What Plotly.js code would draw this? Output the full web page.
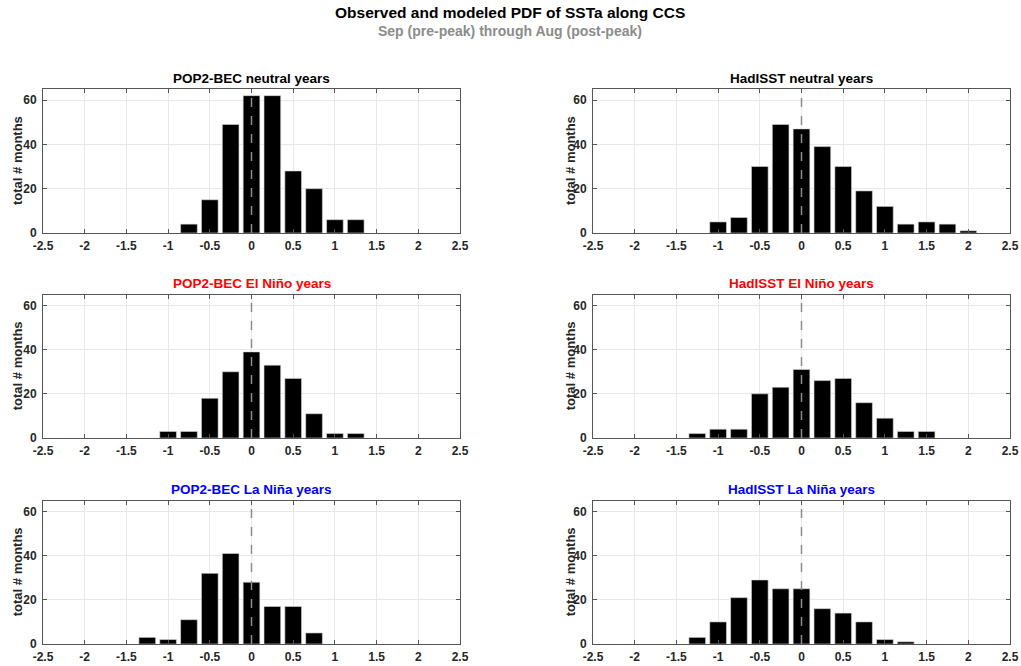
<!DOCTYPE html>
<html>
<head>
<meta charset="utf-8">
<script src="https://cdn.plot.ly/plotly-3.0.1.min.js"></script>
<style>html,body{margin:0;padding:0;background:#fff;}#chart{width:1021px;height:666px;}</style>
</head>
<body>
<div id="chart"></div>
<script>
// Bin centers (SSTa, 0.25 spacing)
const popNeutralX = [-0.75, -0.5, -0.25, 0, 0.25, 0.5, 0.75, 1.0, 1.25];
const popNeutralY = [4, 15, 49, 62, 62, 28, 20, 6, 6];
const hadNeutralX = [-1.0, -0.75, -0.5, -0.25, 0, 0.25, 0.5, 0.75, 1.0, 1.25, 1.5, 1.75, 2.0];
const hadNeutralY = [5, 7, 30, 49, 47, 39, 30, 19, 12, 4, 5, 4, 1];
const popNinoX = [-1.0, -0.75, -0.5, -0.25, 0, 0.25, 0.5, 0.75, 1.0, 1.25];
const popNinoY = [3, 3, 18, 30, 39, 33, 27, 11, 2, 2];
const hadNinoX = [-1.25, -1.0, -0.75, -0.5, -0.25, 0, 0.25, 0.5, 0.75, 1.0, 1.25, 1.5];
const hadNinoY = [2, 4, 4, 20, 23, 31, 26, 27, 16, 9, 3, 3];
const popNinaX = [-1.25, -1.0, -0.75, -0.5, -0.25, 0, 0.25, 0.5, 0.75];
const popNinaY = [3, 2, 11, 32, 41, 28, 17, 17, 5];
const hadNinaX = [-1.25, -1.0, -0.75, -0.5, -0.25, 0, 0.25, 0.5, 0.75, 1.0, 1.25];
const hadNinaY = [3, 10, 21, 29, 25, 25, 16, 14, 10, 2, 1];

const panelTitles = ["POP2-BEC neutral years", "HadISST neutral years",
  "POP2-BEC El Niño years", "HadISST El Niño years",
  "POP2-BEC La Niña years", "HadISST La Niña years"];
const panelTitleColors = ["#000000", "#000000", "#ff0000", "#ff0000", "#0000ff", "#0000ff"];
const xTickVals = [-2.5, -2, -1.5, -1, -0.5, 0, 0.5, 1, 1.5, 2, 2.5];
const xTickText = ["-2.5", "-2", "-1.5", "-1", "-0.5", "0", "0.5", "1", "1.5", "2", "2.5"];
const yTickVals = [0, 20, 40, 60];
const yTickText = ["0", "20", "40", "60"];
const yLabel = "total # months";
const mainTitle = "Observed and modeled PDF of SSTa along CCS";
const subTitle = "Sep (pre-peak) through Aug (post-peak)";

const series = [
  [popNeutralX, popNeutralY], [hadNeutralX, hadNeutralY],
  [popNinoX, popNinoY], [hadNinoX, hadNinoY],
  [popNinaX, popNinaY], [hadNinaX, hadNinaY]
];

const W = 1021, H = 666;
const colX = [[43, 460], [593, 1010]];
const rowY = [[89, 233], [294.5, 438], [500.5, 644]];
const FONT = "Liberation Sans, Arial, Helvetica, sans-serif";

const traces = [];
const layout = {
  width: W, height: H,
  margin: {l: 0, r: 0, t: 0, b: 0},
  paper_bgcolor: "#ffffff", plot_bgcolor: "#ffffff",
  showlegend: false,
  font: {family: FONT, color: "#262626"},
  annotations: [], shapes: []
};

for (let i = 0; i < 6; i++) {
  const c = i % 2, r = Math.floor(i / 2);
  const n = i + 1;
  const xa = n === 1 ? "x" : "x" + n;
  const ya = n === 1 ? "y" : "y" + n;
  const xk = n === 1 ? "xaxis" : "xaxis" + n;
  const yk = n === 1 ? "yaxis" : "yaxis" + n;
  traces.push({
    type: "bar", x: series[i][0], y: series[i][1], xaxis: xa, yaxis: ya,
    width: 0.2,
    marker: {color: "#000000", line: {color: "#d9d9d9", width: 0.6}},
    hoverinfo: "x+y"
  });
  layout[xk] = {
    domain: [colX[c][0] / W, colX[c][1] / W], anchor: ya,
    range: [-2.5, 2.5], tickvals: xTickVals, ticktext: xTickText,
    showgrid: true, gridcolor: "#e8e8e8", gridwidth: 1,
    zeroline: false, showline: true, linecolor: "#555555", linewidth: 1, mirror: "ticks",
    ticks: "inside", ticklen: 4, tickcolor: "#555555",
    ticklabelstandoff: 2,
    tickfont: {family: FONT, size: 12, color: "#262626", weight: "bold"}
  };
  layout[yk] = {
    domain: [1 - rowY[r][1] / H, 1 - rowY[r][0] / H], anchor: xa,
    range: [0, 65], tickvals: yTickVals, ticktext: yTickText,
    showgrid: true, gridcolor: "#e8e8e8", gridwidth: 1,
    zeroline: false, showline: true, linecolor: "#555555", linewidth: 1, mirror: "ticks",
    ticks: "inside", ticklen: 4, tickcolor: "#555555",
    ticklabelstandoff: 3,
    tickfont: {family: FONT, size: 12, color: "#262626", weight: "bold"}
  };
  // dashed zero line
  layout.shapes.push({
    type: "line", xref: xa, yref: ya + " domain", x0: 0, x1: 0, y0: 0, y1: 1,
    line: {color: "#8c8c8c", width: 1.5, dash: "dash"}, layer: "above"
  });
  // panel title
  layout.annotations.push({
    xref: "paper", yref: "paper",
    x: (colX[c][0] + colX[c][1]) / 2 / W, y: 1 - (rowY[r][0] - 11) / H,
    xanchor: "center", yanchor: "middle", showarrow: false,
    text: "<b>" + panelTitles[i] + "</b>",
    font: {family: FONT, size: 13.5, color: panelTitleColors[i]}
  });
  // y label
  layout.annotations.push({
    xref: "paper", yref: "paper",
    x: (c === 0 ? 17 : 570) / W, y: 1 - ((rowY[r][0] + rowY[r][1]) / 2) / H,
    xanchor: "center", yanchor: "middle", showarrow: false, textangle: -90,
    text: "<b>" + yLabel + "</b>",
    font: {family: FONT, size: 13, color: "#262626"}
  });
}

layout.annotations.push({
  xref: "paper", yref: "paper", x: 510 / W, y: 1 - 13 / H,
  xanchor: "center", yanchor: "middle", showarrow: false,
  text: "<b>" + mainTitle + "</b>",
  font: {family: FONT, size: 15.5, color: "#000000"}
});
layout.annotations.push({
  xref: "paper", yref: "paper", x: 510 / W, y: 1 - 31 / H,
  xanchor: "center", yanchor: "middle", showarrow: false,
  text: "<b>" + subTitle + "</b>",
  font: {family: FONT, size: 14, color: "#8c8c8c"}
});

Plotly.newPlot("chart", traces, layout, {displayModeBar: false, staticPlot: true});
</script>
</body>
</html>
